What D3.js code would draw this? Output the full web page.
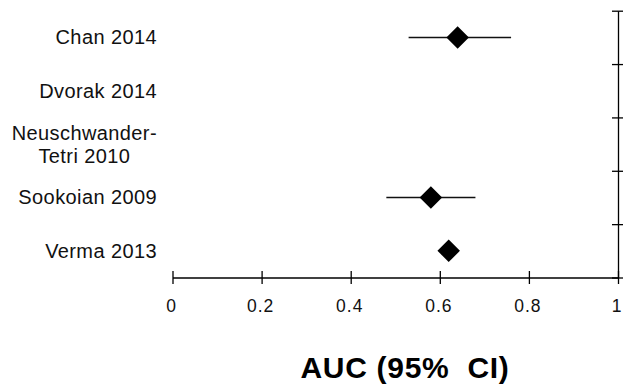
<!DOCTYPE html>
<html>
<head>
<meta charset="utf-8">
<script src="https://cdn.jsdelivr.net/npm/d3@7/dist/d3.min.js"></script>
<style>
  body { margin: 0; background: #fff; }
  svg { display: block; font-family: "Liberation Sans", Arial, sans-serif; }
</style>
</head>
<body>
<script>
var width = 623;
var height = 386;

// studies, top to bottom
var studies = ["Chan 2014", "Dvorak 2014", "Neuschwander-\nTetri 2010", "Sookoian 2009", "Verma 2013"];
var auc = [0.64, null, null, 0.58, 0.62];
var lower = [0.53, null, null, 0.48, null];
var upper = [0.76, null, null, 0.68, null];
var xTicks = [0, 0.2, 0.4, 0.6, 0.8, 1];

var svg = d3.select("body")
    .append("svg")
    .attr("width", width)
    .attr("height", height);

var x = d3.scaleLinear().domain([0, 1]).range([172.5, 618]);
var y = d3.scaleBand().domain(d3.range(studies.length)).range([10.7, 277.5]);
var yEdge = d3.scaleLinear().domain([0, studies.length]).range([10.7, 277.5]);

// bottom axis
var xAxis = svg.append("g")
    .attr("transform", "translate(0," + 277.5 + ")")
    .call(d3.axisBottom(x).tickValues(xTicks).tickSize(6.5).tickSizeOuter(0)
        .tickFormat(function(d) { return String(d); }));
xAxis.select(".domain").attr("stroke", "#000").attr("stroke-width", 1.3);
xAxis.selectAll(".tick line").attr("y1", -6.5).attr("stroke", "#000").attr("stroke-width", 1.3);
xAxis.selectAll(".tick text")
    .attr("y", 34.8)
    .attr("dy", 0)
    .attr("dx", -1.5)
    .attr("fill", "#111")
    .attr("font-size", "17.5px")
    .attr("letter-spacing", "1px")
    .attr("font-family", "'Liberation Sans', Arial, sans-serif");

// right axis (row separators)
var rAxis = svg.append("g")
    .attr("transform", "translate(" + x(1) + ",0)")
    .call(d3.axisRight(yEdge).tickValues(d3.range(studies.length + 1)).tickSize(6).tickSizeOuter(0)
        .tickFormat(""));
rAxis.select(".domain").attr("stroke", "#000").attr("stroke-width", 1.3);
rAxis.selectAll(".tick line").attr("x1", -6).attr("stroke", "#000").attr("stroke-width", 1.3);

// study labels
var labels = svg.selectAll("text.study")
    .data(studies)
    .enter()
    .append("text")
    .attr("class", "study")
    .attr("font-size", "20px")
    .attr("letter-spacing", "0.4px")
    .attr("fill", "#111");

labels.each(function(d, i) {
    var lines = d.split("\n");
    var t = d3.select(this);
    var cy = y(i) + y.bandwidth() / 2;
    var first = cy + 7 - (lines.length - 1) * 11.5;
    var w = 0;
    lines.forEach(function(s, j) {
        var ts = t.append("tspan").attr("x", 0).attr("y", first + j * 23).text(s);
        w = Math.max(w, ts.node().getComputedTextLength());
    });
    if (lines.length > 1) {
        t.attr("text-anchor", "middle");
        t.selectAll("tspan").attr("x", 157 - w / 2);
    } else {
        t.attr("text-anchor", "end");
        t.selectAll("tspan").attr("x", 157);
    }
});

// confidence intervals
svg.selectAll("line.ci")
    .data(d3.range(studies.length).filter(function(i) { return lower[i] != null; }))
    .enter()
    .append("line")
    .attr("class", "ci")
    .attr("x1", function(i) { return x(lower[i]); })
    .attr("x2", function(i) { return x(upper[i]); })
    .attr("y1", function(i) { return y(i) + y.bandwidth() / 2; })
    .attr("y2", function(i) { return y(i) + y.bandwidth() / 2; })
    .attr("stroke", "#111")
    .attr("stroke-width", 1.5);

// point estimates as diamonds
var diamond = d3.symbol().type(d3.symbolSquare).size(253);
svg.selectAll("path.pt")
    .data(d3.range(studies.length).filter(function(i) { return auc[i] != null; }))
    .enter()
    .append("path")
    .attr("class", "pt")
    .attr("d", diamond)
    .attr("transform", function(i) {
        return "translate(" + x(auc[i]) + "," + (y(i) + y.bandwidth() / 2) + ") rotate(45)";
    })
    .attr("fill", "#000");

// axis title
svg.append("text")
    .attr("x", 405)
    .attr("y", 377.5)
    .attr("text-anchor", "middle")
    .attr("font-size", "30px")
    .attr("font-weight", "bold")
    .attr("letter-spacing", "0.7px")
    .attr("fill", "#000")
    .style("white-space", "pre")
    .text("AUC (95%  CI)");
</script>
</body>
</html>
